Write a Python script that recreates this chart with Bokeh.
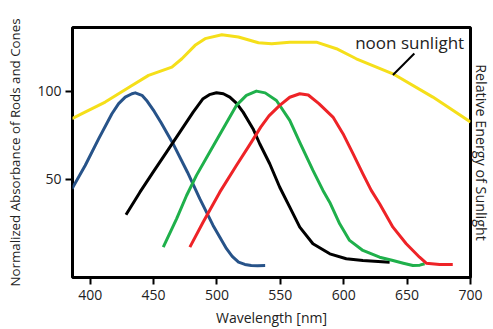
from bokeh.plotting import figure
from bokeh.models import LinearAxis, FixedTicker, Range1d, Label
from bokeh.embed import file_html
from bokeh.resources import INLINE

# ---- data (wavelength nm, normalized value) ----
blue_x = [385.6, 396, 406.6, 417.1, 422.4, 427.6, 432.9, 435.5, 440.8, 445, 450.5, 455.7, 466, 476.7, 486.4, 496.9, 507.5, 512, 517, 522, 527, 532, 538]
blue_y = [44.7, 57.9, 73, 87.2, 92.9, 96.6, 98.5, 99, 97.6, 94.2, 88.5, 82.4, 69.3, 54.1, 39.1, 24, 10.8, 6.5, 3.2, 1.9, 1.3, 1.2, 1.3]

black_x = [428.2, 439.2, 449.6, 460.2, 470.7, 481.2, 489, 494, 499.6, 505, 510.1, 515.5, 520.6, 528.4, 533.7, 541.6, 549.5, 557.4, 565.3, 575.7, 589, 602, 615.1, 636.2]
black_y = [30, 42.8, 54.1, 65.5, 76.8, 88.1, 95.7, 98, 99.1, 98.5, 96.6, 93, 88.1, 78.7, 70.2, 58.9, 45.6, 34.3, 23, 13.6, 7.9, 5.1, 4.1, 3.2]

green_x = [457.6, 468.1, 476, 483.8, 494.3, 504.8, 515.3, 523.2, 531.1, 538, 546.9, 557.4, 565.3, 575.7, 583.6, 589, 596.8, 604.6, 615.1, 628.3, 638.8, 647, 654.5, 660, 663.8]
green_y = [11.7, 27.7, 40.9, 52.3, 65.5, 78.7, 91.9, 97.6, 100, 99, 94.7, 83.4, 71, 55.1, 43.8, 37, 24.9, 15.5, 9.8, 6, 4.1, 2.6, 1.3, 1.5, 2.3]

red_x = [478.6, 489, 502.2, 515.3, 527, 534.5, 541, 549.5, 557.4, 565.3, 572, 580.4, 591.5, 599.4, 607.3, 615.1, 621.7, 628.3, 638.8, 649.3, 659.8, 665.1, 675.6, 686]
red_y = [11.7, 25.8, 42.8, 57.9, 71, 79.6, 86, 91.9, 96.5, 98.5, 97.8, 92.9, 85.3, 75.9, 64.6, 53.2, 43.8, 36.2, 23, 13.6, 6, 2.6, 1.9, 1.9]

sun_x = [385.6, 393.5, 411.8, 432.9, 446, 464.4, 472.3, 482.7, 490.6, 503.8, 516.9, 532.7, 543.2, 557.4, 578.4, 594.2, 609.9, 638.8, 670.3, 700]
sun_y = [84.4, 87.2, 93.8, 103.2, 108.9, 113.6, 118.3, 125.9, 129.7, 131.9, 130.6, 127.4, 126.8, 127.7, 127.7, 124, 118.3, 109.8, 96.6, 82.5]

x_ticks = [400, 450, 500, 550, 600, 650, 700]
y_ticks = [50, 100]

label_text = "noon sunlight"
label_pos = (652, 127.6)
leader = (655.7, 121.3, 638.8, 109.1)

FONT = "Open Sans"
TXT = "#222222"

p = figure(width=493, height=329, output_backend="svg", toolbar_location=None,
           x_range=Range1d(386, 700), y_range=Range1d(-5.5, 136),
           min_border_left=72, min_border_right=22, min_border_top=27, min_border_bottom=52)
p.grid.visible = False
p.background_fill_color = "white"
p.border_fill_color = "white"
p.outline_line_color = "black"
p.outline_line_width = 3
p.outline_line_alpha = 1

for ax in (p.xaxis[0], p.yaxis[0]):
    ax.axis_line_color = None
    ax.major_tick_line_color = "black"
    ax.major_tick_line_width = 2
    ax.major_tick_out = 7
    ax.major_tick_in = 0
    ax.minor_tick_line_color = None
    ax.major_label_text_font = FONT
    ax.major_label_text_font_size = "14px"
    ax.major_label_text_color = TXT
    ax.axis_label_text_font = FONT
    ax.axis_label_text_font_size = "14px"
    ax.axis_label_text_font_style = "normal"
    ax.axis_label_text_color = TXT

p.xaxis[0].ticker = FixedTicker(ticks=x_ticks)
p.yaxis[0].ticker = FixedTicker(ticks=y_ticks)
p.xaxis[0].axis_label = "Wavelength [nm]"
p.yaxis[0].axis_label = "Normalized Absorbance of Rods and Cones"
p.yaxis[0].axis_label_text_font_size = "13.3px"
p.xaxis[0].major_label_standoff = 5
p.xaxis[0].axis_label_standoff = 5
p.yaxis[0].major_label_standoff = 4
p.yaxis[0].axis_label_standoff = 10

right = LinearAxis(ticker=FixedTicker(ticks=[]), axis_label="Relative Energy of Sunlight")
right.axis_line_color = None
right.major_tick_line_color = None
right.minor_tick_line_color = None
right.major_tick_out = 0
right.major_tick_in = 0
right.major_label_standoff = 0
right.axis_label_text_font = FONT
right.axis_label_text_font_size = "14.3px"
right.axis_label_text_font_style = "normal"
right.axis_label_text_color = TXT
right.axis_label_standoff = 1
p.add_layout(right, "right")

W = 3
p.line(sun_x, sun_y, line_color="#f5df1a", line_width=W, line_join="round")
p.line(blue_x, blue_y, line_color="#275389", line_width=W, line_join="round")
p.line(black_x, black_y, line_color="black", line_width=W, line_join="round")
p.line(green_x, green_y, line_color="#1fb04b", line_width=W, line_join="round")
p.line(red_x, red_y, line_color="#ee2327", line_width=W, line_join="round")

p.segment(x0=[leader[0]], y0=[leader[1]], x1=[leader[2]], y1=[leader[3]], line_color="black", line_width=2)
p.add_layout(Label(x=label_pos[0], y=label_pos[1], text=label_text, text_align="center",
                   text_baseline="middle", text_font=FONT, text_font_size="17px", text_color=TXT))

open("out.html", "w").write(file_html(p, INLINE))
